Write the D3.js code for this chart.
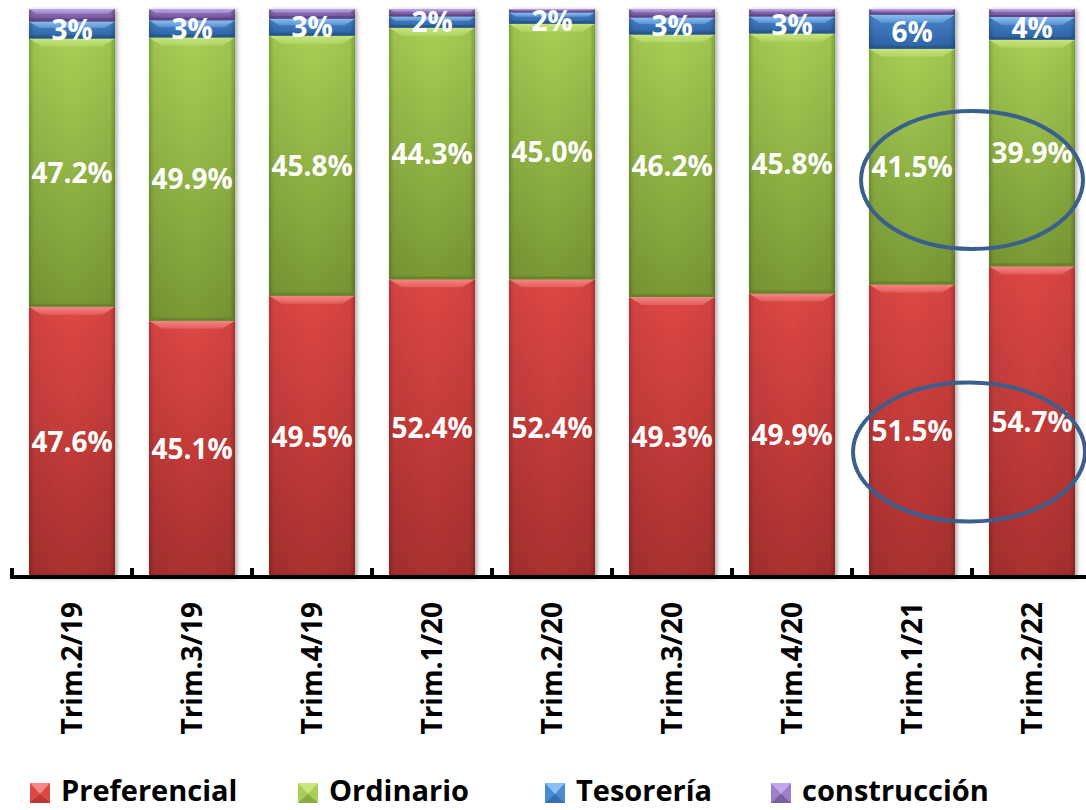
<!DOCTYPE html>
<html>
<head>
<meta charset="utf-8">
<script src="https://cdn.jsdelivr.net/npm/d3@7"></script>
<style>
  body { margin: 0; background: #ffffff; }
  svg { display: block; }
  text { font-family: "Open Sans", "Noto Sans", sans-serif; font-weight: 700; }
</style>
</head>
<body>
<svg id="chart" width="1086" height="810"></svg>
<script>
// Quarterly composition (% of total) by type
const categories   = ["Trim.2/19", "Trim.3/19", "Trim.4/19", "Trim.1/20", "Trim.2/20", "Trim.3/20", "Trim.4/20", "Trim.1/21", "Trim.2/22"];
const preferencial = [47.6, 45.1, 49.5, 52.4, 52.4, 49.3, 49.9, 51.5, 54.7];
const ordinario    = [47.2, 49.9, 45.8, 44.3, 45.0, 46.2, 45.8, 41.5, 39.9];
const tesoreria    = [3, 3, 3, 2, 2, 3, 3, 6, 4];
const construccion = [2.2, 2.0, 1.7, 1.3, 0.6, 1.5, 1.3, 1.0, 1.4];
const seriesNames  = ["Preferencial", "Ordinario", "Tesorería", "construcción"];
// Highlighted quarters (circled)
const highlighted  = ["Trim.1/21", "Trim.2/22"];

const seriesValues = [preferencial, ordinario, tesoreria, construccion];
const rows = categories.map((c, i) => {
  const r = { cat: c };
  seriesNames.forEach((s, k) => { r[s] = seriesValues[k][i]; });
  return r;
});

const palette = {
  "Preferencial": { top: "#de4745", bot: "#a9302e", hi: "#f48a88", edge: "#8f2826" },
  "Ordinario":    { top: "#a8cf55", bot: "#7a9a35", hi: "#c9e681", edge: "#5f7a27" },
  "Tesorería":    { top: "#4b8ad3", bot: "#2d63a6", hi: "#8cc0f2", edge: "#23507f" },
  "construcción": { top: "#9c7fc6", bot: "#6c4f97", hi: "#c4a8ec", edge: "#553c7a" }
};

const svg = d3.select("#chart");
const defs = svg.append("defs");

const axisY = 577;
const x = d3.scaleBand().domain(categories).range([12, 1092])
  .paddingInner(0.283).paddingOuter(0.1415);
const y = d3.scaleLinear().domain([0, 100]).range([axisY, 9]);
const step = x.step();
const gapHalf = (step - x.bandwidth()) / 2;

// gradients
seriesNames.forEach((s, k) => {
  const g = defs.append("linearGradient").attr("id", "grad" + k)
    .attr("x1", 0).attr("y1", 0).attr("x2", 0).attr("y2", 1);
  g.append("stop").attr("offset", "0%").attr("stop-color", palette[s].top);
  g.append("stop").attr("offset", "100%").attr("stop-color", palette[s].bot);
  const h = defs.append("linearGradient").attr("id", "hi" + k)
    .attr("x1", 0).attr("y1", 0).attr("x2", 0).attr("y2", 1);
  h.append("stop").attr("offset", "0%").attr("stop-color", palette[s].hi).attr("stop-opacity", 0.95);
  h.append("stop").attr("offset", "100%").attr("stop-color", palette[s].hi).attr("stop-opacity", 0.35);
});
const side = defs.append("linearGradient").attr("id", "sideShade")
  .attr("x1", 0).attr("y1", 0).attr("x2", 1).attr("y2", 0);
side.append("stop").attr("offset", "0%").attr("stop-color", "#000").attr("stop-opacity", 0.22);
side.append("stop").attr("offset", "6%").attr("stop-color", "#000").attr("stop-opacity", 0.05);
side.append("stop").attr("offset", "50%").attr("stop-color", "#000").attr("stop-opacity", 0);
side.append("stop").attr("offset", "94%").attr("stop-color", "#000").attr("stop-opacity", 0.05);
side.append("stop").attr("offset", "100%").attr("stop-color", "#000").attr("stop-opacity", 0.25);

const shadow = defs.append("filter").attr("id", "barShadow")
  .attr("x", "-10%").attr("y", "-5%").attr("width", "130%").attr("height", "115%");
shadow.append("feDropShadow").attr("dx", 2).attr("dy", 1).attr("stdDeviation", 2.2)
  .attr("flood-color", "#000").attr("flood-opacity", 0.35);

const stacked = d3.stack().keys(seriesNames)(rows);

// bars
const barLayer = svg.append("g");
const barsByCat = barLayer.selectAll("g.bar").data(categories).join("g")
  .attr("class", "bar").attr("filter", "url(#barShadow)");

categories.forEach((c, i) => {
  const g = barsByCat.filter(d => d === c);
  stacked.forEach((layer, k) => {
    const d = layer[i];
    const x0 = x(c), w = x.bandwidth(), x1 = x0 + w;
    const yt = y(d[1]), yb = y(d[0]), h = yb - yt;
    if (h <= 0) return;
    const b = Math.min(8, h / 2.6);
    g.append("rect").attr("x", x0).attr("y", yt).attr("width", w).attr("height", h)
      .attr("fill", `url(#grad${k})`);
    g.append("rect").attr("x", x0).attr("y", yt).attr("width", w).attr("height", h)
      .attr("fill", "url(#sideShade)");
    // top bevel
    g.append("polygon")
      .attr("points", [[x0, yt], [x1, yt], [x1 - b * 1.6, yt + b], [x0 + b * 1.6, yt + b]].join(" "))
      .attr("fill", `url(#hi${k})`);
    // bottom edge
    const bb = Math.min(3, h / 4);
    g.append("polygon")
      .attr("points", [[x0, yb], [x1, yb], [x1 - bb, yb - bb], [x0 + bb, yb - bb]].join(" "))
      .attr("fill", palette[seriesNames[k]].edge).attr("opacity", 0.6);
  });
});

// value labels (kept inside the drawing area at the top)
const labelLayer = svg.append("g");
stacked.forEach((layer, k) => {
  if (k === 3) return;
  labelLayer.selectAll(null).data(layer).join("text")
    .attr("x", (d, i) => x(categories[i]) + x.bandwidth() / 2)
    .attr("y", d => Math.max(21, (y(d[0]) + y(d[1])) / 2))
    .attr("dy", "0.36em")
    .attr("text-anchor", "middle")
    .attr("fill", "#ffffff")
    .attr("font-size", 28)
    .text(d => k === 2 ? d3.format(".0f")(d[1] - d[0]) + "%" : d3.format(".1f")(d[1] - d[0]) + "%");
});

// category axis
const axis = svg.append("g");
axis.append("line").attr("x1", 10).attr("x2", 1086).attr("y1", axisY).attr("y2", axisY)
  .attr("stroke", "#000").attr("stroke-width", 4);
axis.selectAll("line.tick").data(categories).join("line").attr("class", "tick")
  .attr("x1", d => x(d) - gapHalf).attr("x2", d => x(d) - gapHalf)
  .attr("y1", axisY - 9).attr("y2", axisY)
  .attr("stroke", "#000").attr("stroke-width", 4);
axis.selectAll("text").data(categories).join("text")
  .attr("transform", d => `translate(${x(d) + x.bandwidth() / 2},602) rotate(-90)`)
  .attr("text-anchor", "end")
  .attr("dy", "0.36em")
  .attr("font-size", 28)
  .attr("fill", "#000")
  .text(d => d);

// circled highlights
const hx = (x(highlighted[0]) + x(highlighted[1]) + x.bandwidth()) / 2;
const ring = svg.append("g").attr("fill", "none").attr("stroke", "#3a5f8e").attr("stroke-width", 4);
ring.append("ellipse").attr("cx", hx).attr("cy", y(69.9)).attr("rx", 111).attr("ry", 69);
ring.append("ellipse").attr("cx", hx - 3).attr("cy", y(22.0)).attr("rx", 116).attr("ry", 69.5);

// legend
const legendX = [30, 298, 545, 771];
const legend = svg.append("g");
seriesNames.forEach((s, k) => {
  const gx = legendX[k], gy = 783, sz = 20;
  const p = palette[s];
  const item = legend.append("g");
  const c = [gx + sz / 2, gy + sz * 0.55];
  item.append("rect").attr("x", gx).attr("y", gy).attr("width", sz).attr("height", sz).attr("fill", p.top);
  item.append("polygon").attr("points", [[gx, gy], [gx + sz, gy], c].join(" ")).attr("fill", p.hi);
  item.append("polygon").attr("points", [[gx, gy + sz], [gx + sz, gy + sz], c].join(" ")).attr("fill", p.bot).attr("opacity", 0.7);
  item.append("text").attr("x", gx + 31).attr("y", 801)
    .attr("font-size", 29).attr("fill", "#000").text(s);
});
</script>
</body>
</html>
